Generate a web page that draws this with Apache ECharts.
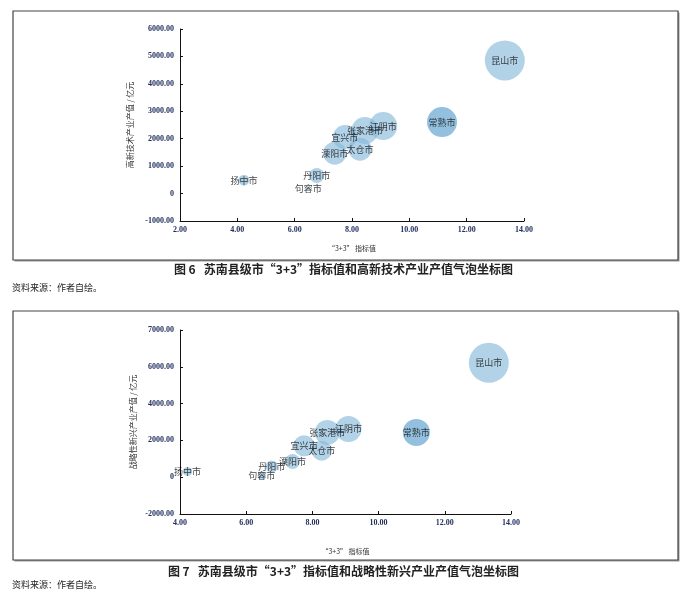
<!DOCTYPE html>
<html><head><meta charset="utf-8">
<script src="https://cdn.jsdelivr.net/npm/echarts@6/dist/echarts.min.js"></script>
<style>html,body{margin:0;padding:0;background:#fff}#c{width:687px;height:592px}</style>
</head><body><div id="c"></div>
<script>
const cities = ['扬中市','句容市','丹阳市','溧阳市','宜兴市','太仓市','张家港市','江阴市','常熟市','昆山市'];
const index33 = [4.23, 6.47, 6.77, 7.40, 7.75, 8.28, 8.45, 9.09, 11.14, 13.33];
const hiTechOutput = [489, 197, 657, 1474, 2058, 1620, 2299, 2460, 2606, 4854];
const strategicOutput = [309, 91, 582, 854, 1709, 1436, 2436, 2618, 2436, 6218];
const bubbleArea1 = [121, 16, 225, 529, 576, 529, 729, 784, 900, 1600];
const bubbleArea2 = [81, 64, 144, 225, 441, 400, 625, 676, 729, 1600];
const yTicks1 = ['-1000.00','0','1000.00','2000.00','3000.00','4000.00','5000.00','6000.00'];
const yTicks2 = ['-2000.00','0','2000.00','4000.00','6000.00','7000.00'];
const xTicks1 = ['2.00','4.00','6.00','8.00','10.00','12.00','14.00'];
const xTicks2 = ['4.00','6.00','8.00','10.00','12.00','14.00'];
const yName1 = '高新技术产业产值 / 亿元';
const yName2 = '战略性新兴产业产值 / 亿元';
const xName = '“3+3” 指标值';
const caption1 = '图 6   苏南县级市“3+3”指标值和高新技术产业产值气泡坐标图';
const caption2 = '图 7   苏南县级市“3+3”指标值和战略性新兴产业产值气泡坐标图';
const sourceNote = '资料来源：作者自绘。';

const chart = echarts.init(document.getElementById('c'));
const tickColor = '#23305e';
const serif = '"Liberation Serif","DejaVu Serif",serif';
const cjk = '"Noto Sans CJK SC",sans-serif';

function buildData(ys, areas){
  return cities.map((n,i)=>{
    const d = {name:n, value:[index33[i], ys[i], areas[i]]};
    if(n==='常熟市') d.itemStyle = {color:'rgba(100,165,208,0.88)'};
    return d;
  });
}
function xAxis(gi, min, ticks, gap){
  return {gridIndex:gi, type:'value', min:min, max:14, interval:2,
    name:xName, nameLocation:'middle', nameGap:gap,
    nameTextStyle:{fontFamily:cjk, fontSize:7, color:'#333'},
    axisLine:{onZero:false, lineStyle:{color:'#111', width:1}},
    axisTick:{inside:true, length:3, lineStyle:{color:'#111'}},
    splitLine:{show:false},
    axisLabel:{fontFamily:serif, fontSize:8, fontWeight:'bold', color:tickColor, margin:5,
      formatter:(v)=>ticks[Math.round((v-min)/2)]}};
}
function yAxis(gi, min, max, itv, ticks, name){
  return {gridIndex:gi, type:'value', min:min, max:max, interval:itv,
    name:name, nameLocation:'middle', nameGap:43, nameRotate:90,
    nameTextStyle:{fontFamily:cjk, fontSize:8, color:'#333'},
    axisLine:{show:true, onZero:false, lineStyle:{color:'#111', width:1}},
    axisTick:{show:true, inside:true, length:3, lineStyle:{color:'#111'}},
    splitLine:{show:false},
    axisLabel:{fontFamily:serif, fontSize:8, fontWeight:'bold', color:tickColor, margin:6,
      formatter:(v)=>ticks[Math.round((v-min)/itv)]}};
}
function series(gi, ys, areas){
  return {type:'scatter', xAxisIndex:gi, yAxisIndex:gi,
    data:buildData(ys, areas),
    symbolSize:(v)=>Math.sqrt(v[2]),
    itemStyle:{color:'rgba(135,185,218,0.8)'},
    label:{show:true, position:'inside', formatter:(p)=>p.name,
      fontFamily:cjk, fontSize:9, color:'#111'},
    labelLayout:{hideOverlap:false},
    emphasis:{disabled:true}, animation:false};
}

chart.setOption({
  animation:false,
  grid:[
    {left:180, top:29, width:344, height:192},
    {left:180, top:330, width:331, height:184}
  ],
  xAxis:[xAxis(0, 2, xTicks1, 24), xAxis(1, 4, xTicks2, 34)],
  yAxis:[yAxis(0, -1000, 6000, 1000, yTicks1, yName1), yAxis(1, -2000, 8000, 2000, yTicks2, yName2)],
  series:[series(0, hiTechOutput, bubbleArea1), series(1, strategicOutput, bubbleArea2)],
  graphic:[
    {type:'rect', shape:{x:14.5, y:12.5, width:665, height:249}, style:{fill:'#999'}, z:-2},
    {type:'rect', shape:{x:13, y:11, width:665, height:249}, style:{fill:'#fff', stroke:'#444', lineWidth:1.2}, z:-1},
    {type:'rect', shape:{x:14.5, y:312.5, width:665, height:249}, style:{fill:'#999'}, z:-2},
    {type:'rect', shape:{x:13, y:311, width:665, height:249}, style:{fill:'#fff', stroke:'#444', lineWidth:1.2}, z:-1},
    {type:'text', left:'center', top:263, style:{text:caption1, font:'bold 12px "Noto Sans CJK SC"', fill:'#222'}},
    {type:'text', left:12, top:283, style:{text:sourceNote, font:'9px "Noto Sans CJK SC"', fill:'#222'}},
    {type:'text', left:'center', top:565, style:{text:caption2, font:'bold 12px "Noto Sans CJK SC"', fill:'#222'}},
    {type:'text', left:12, top:580, style:{text:sourceNote, font:'9px "Noto Sans CJK SC"', fill:'#222'}}
  ]
});
</script></body></html>
